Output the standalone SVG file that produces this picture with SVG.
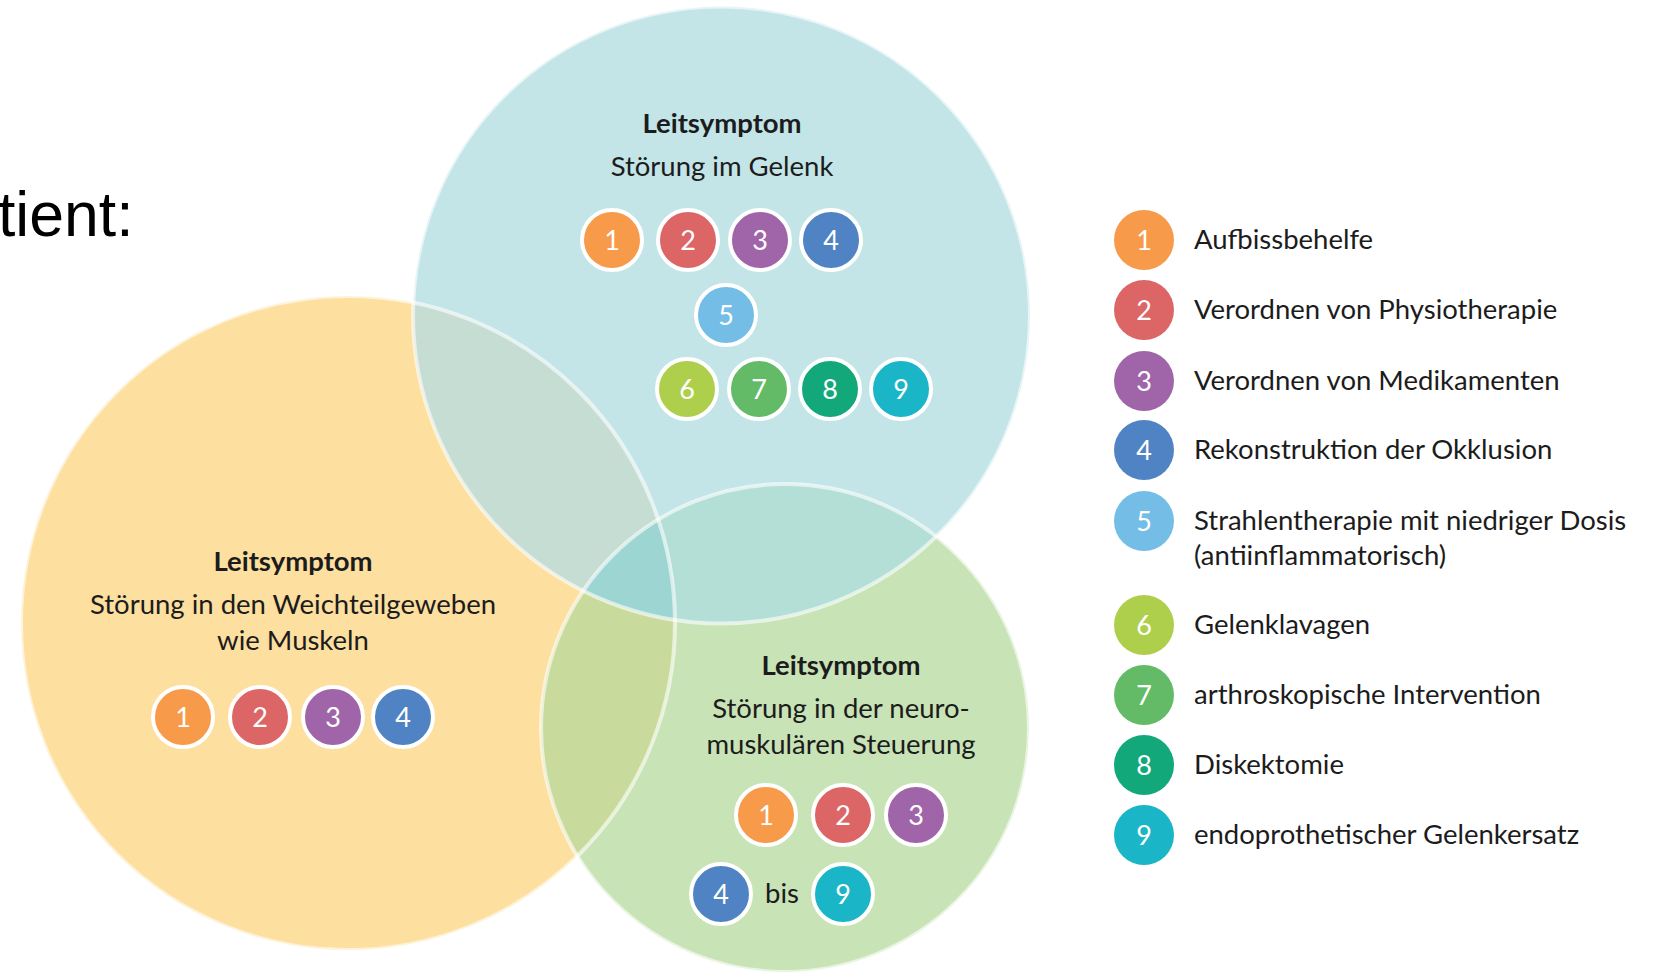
<svg xmlns="http://www.w3.org/2000/svg" width="1653" height="972" viewBox="0 0 1653 972">
<style>
.t{font-family:Lato,"Open Sans","Liberation Sans",sans-serif;font-size:27.5px;fill:#1c1c1c}
.h{font-family:Lato,"Open Sans","Liberation Sans",sans-serif;font-size:27.5px;font-weight:bold;fill:#1c1c1c;text-anchor:middle}
.c{text-anchor:middle}
.n{font-family:Lato,"Open Sans","Liberation Sans",sans-serif;font-size:27px;fill:#ffffff;text-anchor:middle}
.bub{stroke:#ffffff;stroke-width:4}
.edge{fill:none;stroke:#ffffff;stroke-opacity:0.6;stroke-width:4}
.b1{fill:#f79a4a}.b2{fill:#dc6566}.b3{fill:#a064a9}.b4{fill:#4f83c3}.b5{fill:#74bde6}
.b6{fill:#aecf4c}.b7{fill:#63bb67}.b8{fill:#12a87a}.b9{fill:#1ab5c6}
</style>
<defs>
<clipPath id="cpY"><circle cx="348" cy="623" r="327"/></clipPath>
<clipPath id="cpB"><circle cx="721.5" cy="315" r="308.5"/></clipPath>
</defs>
<rect width="1653" height="972" fill="#ffffff"/>
<text x="-2" y="236" font-family="'Liberation Sans',Arial,sans-serif" font-size="62.5" fill="#000000">tient:</text>

<g id="venn-fills">
<circle cx="348" cy="623" r="327" fill="#fddf9f"/>
<circle cx="721.5" cy="315" r="308.5" fill="#c3e5e8"/>
<circle cx="785" cy="728" r="244" fill="#c8e3b6"/>
<circle cx="721.5" cy="315" r="308.5" fill="#c5ddd2" clip-path="url(#cpY)"/>
<circle cx="785" cy="728" r="244" fill="#c9db9c" clip-path="url(#cpY)"/>
<circle cx="785" cy="728" r="244" fill="#b3dfd6" clip-path="url(#cpB)"/>
<g clip-path="url(#cpY)"><circle cx="785" cy="728" r="244" fill="#9dd5d2" clip-path="url(#cpB)"/></g>
<circle class="edge" cx="348" cy="623" r="327"/>
<circle class="edge" cx="721.5" cy="315" r="308.5"/>
<circle class="edge" cx="785" cy="728" r="244"/>
</g>

<g id="node-gelenk">
<text class="h" x="722" y="133">Leitsymptom</text>
<text class="t c" x="722" y="176">Störung im Gelenk</text>
<circle class="bub b1" cx="612" cy="240" r="30"/><text class="n" x="612" y="249.5">1</text>
<circle class="bub b2" cx="688" cy="240" r="30"/><text class="n" x="688" y="249.5">2</text>
<circle class="bub b3" cx="760" cy="240" r="30"/><text class="n" x="760" y="249.5">3</text>
<circle class="bub b4" cx="831" cy="240" r="30"/><text class="n" x="831" y="249.5">4</text>
<circle class="bub b5" cx="726" cy="315" r="30"/><text class="n" x="726" y="324.5">5</text>
<circle class="bub b6" cx="687" cy="389" r="30"/><text class="n" x="687" y="398.5">6</text>
<circle class="bub b7" cx="759" cy="389" r="30"/><text class="n" x="759" y="398.5">7</text>
<circle class="bub b8" cx="830" cy="389" r="30"/><text class="n" x="830" y="398.5">8</text>
<circle class="bub b9" cx="901" cy="389" r="30"/><text class="n" x="901" y="398.5">9</text>
</g>

<g id="node-weichteil">
<text class="h" x="293" y="571">Leitsymptom</text>
<text class="t c" x="293" y="614">Störung in den Weichteilgeweben</text>
<text class="t c" x="293" y="650">wie Muskeln</text>
<circle class="bub b1" cx="183" cy="717" r="30"/><text class="n" x="183" y="726.5">1</text>
<circle class="bub b2" cx="260" cy="717" r="30"/><text class="n" x="260" y="726.5">2</text>
<circle class="bub b3" cx="333" cy="717" r="30"/><text class="n" x="333" y="726.5">3</text>
<circle class="bub b4" cx="403" cy="717" r="30"/><text class="n" x="403" y="726.5">4</text>
</g>

<g id="node-neuro">
<text class="h" x="841" y="675">Leitsymptom</text>
<text class="t c" x="841" y="718">Störung in der neuro-</text>
<text class="t c" x="841" y="754">muskulären Steuerung</text>
<circle class="bub b1" cx="766" cy="815" r="30"/><text class="n" x="766" y="824.5">1</text>
<circle class="bub b2" cx="843" cy="815" r="30"/><text class="n" x="843" y="824.5">2</text>
<circle class="bub b3" cx="916" cy="815" r="30"/><text class="n" x="916" y="824.5">3</text>
<circle class="bub b4" cx="721" cy="894" r="30"/><text class="n" x="721" y="903.5">4</text>
<text class="t c" x="782" y="903">bis</text>
<circle class="bub b9" cx="843" cy="894" r="30"/><text class="n" x="843" y="903.5">9</text>
</g>

<g id="legend">
<g id="legend-1"><circle class="b1" cx="1144" cy="240" r="30"/><text class="n" x="1144" y="249.5">1</text><text class="t" x="1194" y="249">Aufbissbehelfe</text></g>
<g id="legend-2"><circle class="b2" cx="1144" cy="310" r="30"/><text class="n" x="1144" y="319.5">2</text><text class="t" x="1194" y="319">Verordnen von Physiotherapie</text></g>
<g id="legend-3"><circle class="b3" cx="1144" cy="381" r="30"/><text class="n" x="1144" y="390.5">3</text><text class="t" x="1194" y="390">Verordnen von Medikamenten</text></g>
<g id="legend-4"><circle class="b4" cx="1144" cy="450" r="30"/><text class="n" x="1144" y="459.5">4</text><text class="t" x="1194" y="459">Rekonstruktion der Okklusion</text></g>
<g id="legend-5"><circle class="b5" cx="1144" cy="521" r="30"/><text class="n" x="1144" y="530.5">5</text><text class="t" x="1194" y="530">Strahlentherapie mit niedriger Dosis</text><text class="t" x="1194" y="565">(antiinflammatorisch)</text></g>
<g id="legend-6"><circle class="b6" cx="1144" cy="625" r="30"/><text class="n" x="1144" y="634.5">6</text><text class="t" x="1194" y="634">Gelenklavagen</text></g>
<g id="legend-7"><circle class="b7" cx="1144" cy="695" r="30"/><text class="n" x="1144" y="704.5">7</text><text class="t" x="1194" y="704">arthroskopische Intervention</text></g>
<g id="legend-8"><circle class="b8" cx="1144" cy="765" r="30"/><text class="n" x="1144" y="774.5">8</text><text class="t" x="1194" y="774">Diskektomie</text></g>
<g id="legend-9"><circle class="b9" cx="1144" cy="835" r="30"/><text class="n" x="1144" y="844.5">9</text><text class="t" x="1194" y="844">endoprothetischer Gelenkersatz</text></g>
</g>
</svg>
